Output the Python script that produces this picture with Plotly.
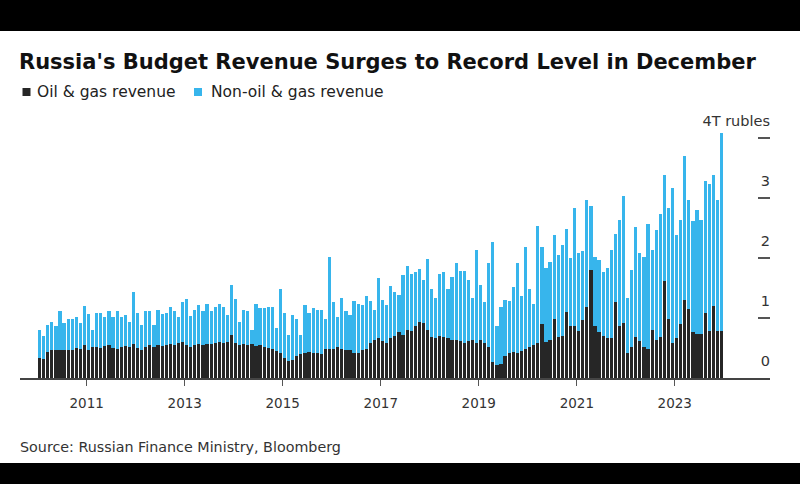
import plotly.graph_objects as go
import pandas as pd

# ---------------- data (trillion rubles, monthly) ----------------
months = pd.date_range("2010-01-01", periods=168, freq="MS")

oil_gas_2010 = [0.34, 0.31, 0.44, 0.47, 0.46, 0.47, 0.47, 0.46, 0.46, 0.50, 0.49, 0.55]
oil_gas_2011 = [0.47, 0.51, 0.52, 0.50, 0.53, 0.55, 0.50, 0.48, 0.51, 0.53, 0.52, 0.57]
oil_gas_2012 = [0.50, 0.47, 0.52, 0.55, 0.52, 0.55, 0.53, 0.55, 0.57, 0.55, 0.58, 0.60]
oil_gas_2013 = [0.55, 0.52, 0.55, 0.57, 0.55, 0.57, 0.56, 0.58, 0.60, 0.58, 0.60, 0.72]
oil_gas_2014 = [0.58, 0.55, 0.57, 0.55, 0.56, 0.54, 0.55, 0.52, 0.50, 0.48, 0.45, 0.41]
oil_gas_2015 = [0.33, 0.29, 0.30, 0.36, 0.40, 0.42, 0.43, 0.41, 0.42, 0.40, 0.49, 0.49]
oil_gas_2016 = [0.48, 0.52, 0.49, 0.47, 0.46, 0.42, 0.41, 0.47, 0.49, 0.58, 0.63, 0.66]
oil_gas_2017 = [0.61, 0.58, 0.66, 0.70, 0.76, 0.72, 0.80, 0.79, 0.86, 0.94, 0.91, 0.80]
oil_gas_2018 = [0.69, 0.66, 0.70, 0.69, 0.66, 0.64, 0.63, 0.61, 0.58, 0.62, 0.63, 0.59]
oil_gas_2019 = [0.63, 0.58, 0.52, 0.27, 0.22, 0.24, 0.37, 0.41, 0.44, 0.42, 0.45, 0.48]
oil_gas_2020 = [0.52, 0.55, 0.58, 0.90, 0.60, 0.63, 0.98, 0.69, 0.70, 1.10, 0.87, 0.86]
oil_gas_2021 = [0.79, 0.96, 1.19, 1.80, 0.86, 0.77, 0.70, 0.66, 0.67, 1.27, 0.87, 0.91]
oil_gas_2022 = [0.41, 0.52, 0.68, 0.61, 0.52, 0.48, 0.80, 0.63, 0.69, 1.62, 0.99, 0.58]
oil_gas_2023 = [0.66, 0.90, 1.30, 1.15, 0.77, 0.74, 0.73, 1.08, 0.79, 1.20, 0.79, 0.79]

total_2010 = [0.80, 0.70, 0.88, 0.94, 0.86, 1.11, 0.92, 0.98, 0.99, 1.02, 0.91, 1.20]
total_2011 = [1.06, 0.80, 1.09, 1.09, 1.02, 1.11, 1.02, 1.11, 1.02, 1.05, 0.94, 1.44]
total_2012 = [1.09, 0.88, 1.11, 1.11, 0.88, 1.13, 1.06, 1.08, 1.18, 1.11, 1.01, 1.26]
total_2013 = [1.32, 1.03, 1.13, 1.22, 1.11, 1.23, 1.12, 1.19, 1.23, 1.19, 1.05, 1.55]
total_2014 = [1.31, 0.94, 1.14, 1.11, 0.80, 1.24, 1.16, 1.16, 1.18, 1.19, 0.83, 1.48]
total_2015 = [1.08, 0.72, 1.05, 0.99, 0.72, 1.22, 1.09, 1.16, 1.14, 1.13, 0.98, 2.02]
total_2016 = [1.26, 1.01, 1.33, 1.12, 1.05, 1.28, 1.24, 1.22, 1.36, 1.29, 1.13, 1.66]
total_2017 = [1.30, 1.22, 1.53, 1.44, 1.38, 1.72, 1.87, 1.74, 1.77, 1.81, 1.64, 1.99]
total_2018 = [1.48, 1.33, 1.73, 1.76, 1.49, 1.69, 1.91, 1.79, 1.79, 1.63, 1.33, 2.14]
total_2019 = [1.55, 1.26, 1.91, 2.26, 0.87, 1.19, 1.30, 1.28, 1.51, 1.92, 1.37, 2.19]
total_2020 = [1.49, 1.24, 2.53, 2.19, 1.83, 1.94, 2.38, 2.05, 2.22, 2.49, 2.00, 2.84]
total_2021 = [2.09, 2.11, 2.96, 2.87, 2.01, 1.97, 1.76, 1.83, 2.13, 2.40, 2.64, 3.03]
total_2022 = [1.33, 1.80, 2.52, 2.09, 2.02, 2.56, 2.13, 2.47, 2.74, 3.38, 2.84, 3.16]
total_2023 = [2.38, 2.63, 3.70, 2.97, 2.61, 2.80, 2.64, 3.28, 3.24, 3.38, 2.97, 4.08]

oil_gas = (oil_gas_2010 + oil_gas_2011 + oil_gas_2012 + oil_gas_2013 + oil_gas_2014
           + oil_gas_2015 + oil_gas_2016 + oil_gas_2017 + oil_gas_2018 + oil_gas_2019
           + oil_gas_2020 + oil_gas_2021 + oil_gas_2022 + oil_gas_2023)
total = (total_2010 + total_2011 + total_2012 + total_2013 + total_2014
         + total_2015 + total_2016 + total_2017 + total_2018 + total_2019
         + total_2020 + total_2021 + total_2022 + total_2023)
non_oil_gas = [round(t - o, 3) for t, o in zip(total, oil_gas)]

y_tick_vals = [0, 1, 2, 3, 4]
y_tick_text = ["0", "1", "2", "3", "4T rubles"]

series_names = ["Oil & gas revenue", "Non-oil & gas revenue"]
title_text = "Russia's Budget Revenue Surges to Record Level in December"
source_text = "Source: Russian Finance Ministry, Bloomberg"

# ---------------- styling ----------------
W, H = 800, 484
ML, MR, MT, MB = 20, 30, 111, 106
PW, PH = W - ML - MR, H - MT - MB
Y_MAX = PH / 60.0
BLACK = "#262626"
BLUE = "#37b5ec"
FONT = "DejaVu Sans"


def px_x(px):
    return (px - ML) / PW


def px_y(py):
    return (H - MB - py) / PH


bar_width_ms = 24 * 86400000

fig = go.Figure()
fig.add_trace(go.Bar(x=months, y=oil_gas, name=series_names[0],
                     marker=dict(color=BLACK, line=dict(width=0)),
                     xperiod="M1", xperiodalignment="middle",
                     width=[bar_width_ms] * len(months)))
fig.add_trace(go.Bar(x=months, y=non_oil_gas, name=series_names[1],
                     marker=dict(color=BLUE, line=dict(width=0)),
                     xperiod="M1", xperiodalignment="middle",
                     width=[bar_width_ms] * len(months)))

fig.update_layout(
    barmode="stack",
    width=W, height=H,
    margin=dict(l=ML, r=MR, t=MT, b=MB, pad=0),
    paper_bgcolor="white", plot_bgcolor="white",
    showlegend=False,
    font=dict(family=FONT, color="#222"),
    title=dict(text=title_text, x=19 / W, xanchor="left", xref="container",
               y=1 - 62 / H, yanchor="middle", yref="container",
               font=dict(family=FONT, size=21, weight="bold", color="#111")),
)

fig.update_xaxes(
    type="date",
    range=["2009-08-22", "2024-12-11"],
    tick0="2011-01-01", dtick="M24", tickformat="%Y",
    ticks="outside", ticklen=6, tickwidth=1, tickcolor="#555",
    ticklabelstandoff=6,
    showline=True, linecolor="#444", linewidth=1.5,
    showgrid=False, zeroline=False,
    tickfont=dict(family=FONT, size=13.5, color="#333"),
)

fig.update_yaxes(
    range=[0, Y_MAX], side="right",
    tickvals=y_tick_vals, ticktext=y_tick_text,
    ticks="inside", ticklen=12, tickwidth=1.5, tickcolor="#555",
    ticklabelposition="inside top", ticklabelshift=-6, ticklabelstandoff=-3,
    showgrid=False, zeroline=False, showline=False,
    tickfont=dict(family=FONT, size=14.5, color="#333"),
)

# custom legend
legend_items = [(22.5, 35, BLACK, series_names[0]), (194, 209, BLUE, series_names[1])]
for sq_x, tx, col, name in legend_items:
    fig.add_shape(type="rect", xref="paper", yref="paper",
                  x0=px_x(sq_x), x1=px_x(sq_x + 8), y0=px_y(96), y1=px_y(88),
                  fillcolor=col, line=dict(width=0))
    fig.add_annotation(text=name, xref="paper", yref="paper",
                       x=px_x(tx), y=px_y(92), xanchor="left", yanchor="middle",
                       showarrow=False, font=dict(family=FONT, size=15.5, color="#222"))

fig.add_annotation(text=source_text, xref="paper", yref="paper",
                   x=px_x(18), y=px_y(447), xanchor="left", yanchor="middle",
                   showarrow=False, font=dict(family=FONT, size=14.3, color="#333"))

# black bands top and bottom
for y0, y1 in [(0, 31), (463, H)]:
    fig.add_shape(type="rect", xref="paper", yref="paper",
                  x0=px_x(0), x1=px_x(W), y0=px_y(y1), y1=px_y(y0),
                  fillcolor="black", line=dict(width=0), layer="above")

fig.write_html("out.html")
